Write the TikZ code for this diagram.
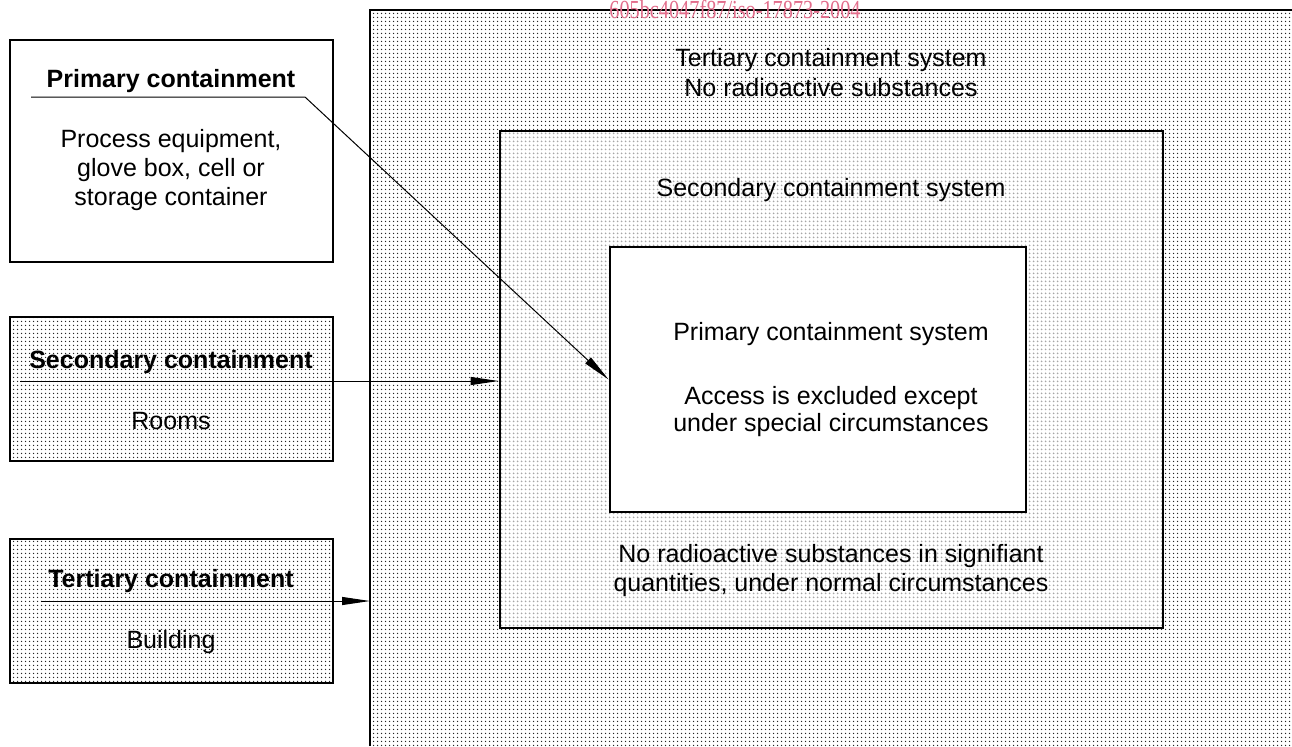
\documentclass[tikz,border=0pt]{standalone}
\usepackage{fontspec}
\setmainfont{Liberation Sans}
\newfontfamily\wmfont{Liberation Serif}
\usetikzlibrary{calc, patterns.meta, arrows.meta}

\definecolor{wmpink}{RGB}{226,110,140}

\tikzdeclarepattern{
	name=finedots,
	type=uncolored,
	bottom left={(0pt,0pt)},
	top right={(2pt,2pt)},
	tile size={(2pt,2pt)},
	code={\pgfpathcircle{\pgfqpoint{1pt}{1pt}}{0.45pt}\pgfusepath{fill}}
}

\begin{document}
\begin{tikzpicture}[x=0.5pt, y=-0.5pt,
	box/.style={draw, line width=1.4pt, inner sep=0pt},
	dotfill/.style={pattern=finedots, pattern color=#1},
	txt/.style={font=\fontsize{12.5}{14.5}\selectfont, align=center, inner sep=0pt},
	head/.style={font=\fontsize{12.5}{14.5}\selectfont\bfseries, inner sep=0pt},
	lead/.style={line width=0.5pt, -{Triangle[length=14pt, width=4pt]}}]
	\useasboundingbox (0,0) rectangle (1292,746);
	
	% tertiary containment system (building)
	\coordinate (tsys-nw) at (370,10);
	\fill [dotfill=black!85] (tsys-nw) rectangle (1292,746);
	\draw [line width=1.4pt] (370,746) -- (tsys-nw) -- (1292,10);
	
	\node [box, dotfill=black!35, minimum width=331.5pt, minimum height=248.5pt] (ssys) at (831.5,379.5) {};
	\node [box, fill=white, minimum width=208pt, minimum height=132.5pt] (psys) at (818,379.5) {};
	
	\begin{scope}
		\node [txt, font=\fontsize{12.5}{15}\selectfont] (tsys-txt) at (831,73) {Tertiary containment system\\No radioactive substances};
		\node [txt, anchor=base] (ssys-head) at (831,196) {Secondary containment system};
		\node [txt] (ssys-txt) at (831,571) {No radioactive substances in signifiant\\quantities, under normal circumstances};
		\node [txt, anchor=base] (psys-head) at (831,340) {Primary containment system};
		\node [txt, font=\fontsize{12.5}{13.5}\selectfont] (psys-txt) at (831,412) {Access is excluded except\\under special circumstances};
	\end{scope}
	
	% legend boxes
	\node [box, fill=white, minimum width=161.5pt, minimum height=111pt] (pc) at (171.5,151) {};
	\node [box, dotfill=black!85, minimum width=161.5pt, minimum height=72pt] (sc) at (171.5,389) {};
	\node [box, dotfill=black!85, minimum width=161.5pt, minimum height=72pt] (tc) at (171.5,611) {};
	
	\node [head, anchor=base] (pc-head) at (171,87) {Primary containment};
	\node [txt] (pc-body) at (171,170) {Process equipment,\\glove box, cell or\\storage container};
	\node [head, anchor=base] (sc-head) at (171,368) {Secondary containment};
	\node [txt, anchor=base] (sc-body) at (171,429) {Rooms};
	\node [head, anchor=base] (tc-head) at (171,587) {Tertiary containment};
	\node [txt, anchor=base] (tc-body) at (171,648) {Building};
	
	% leaders
	\coordinate (pc-ul) at (31,97);
	\coordinate (pc-bend) at (305,97);
	\coordinate (sc-ul) at (20,381);
	\coordinate (tc-ul) at (41,601);
	\draw [lead] (pc-ul) -- (pc-bend) -- (psys.west);
	\draw [lead] (sc-ul) -- (sc-ul -| ssys.west);
	\draw [lead] (tc-ul) -- (tc-ul -| tsys-nw);
	
	\node [font=\wmfont\fontsize{13}{13}\selectfont, text=wmpink, anchor=base, inner sep=0pt, xscale=0.78] (wm) at (735,18) {605bc4047f87/iso-17873-2004};
\end{tikzpicture}
\end{document}
